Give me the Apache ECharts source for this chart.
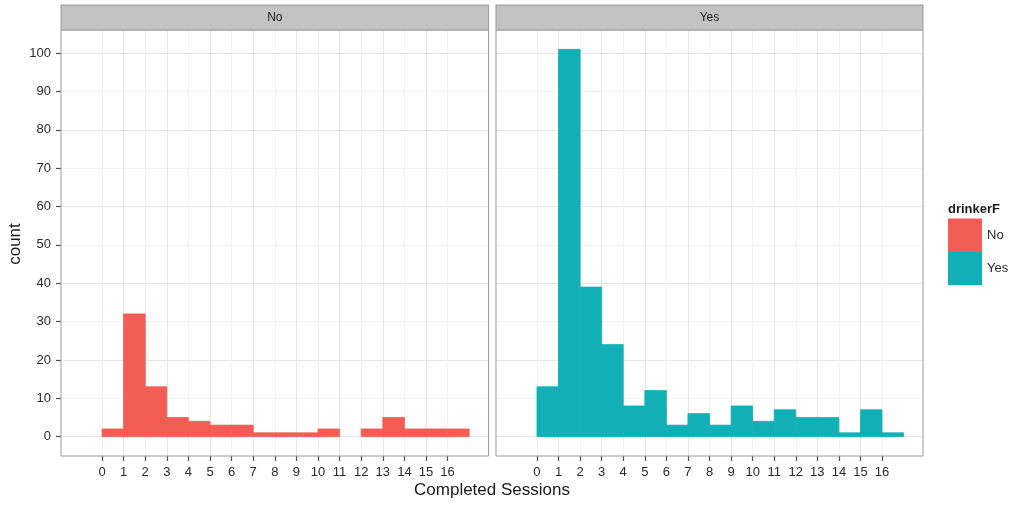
<!DOCTYPE html>
<html>
<head>
<meta charset="utf-8">
<script src="https://cdn.jsdelivr.net/npm/echarts@6/dist/echarts.min.js"></script>
<style>html,body{margin:0;padding:0;background:#fff;}#c{width:1015px;height:506px;}</style>
</head>
<body>
<div id="c"></div>
<script>
// ---- data ----
const binStarts = [0,1,2,3,4,5,6,7,8,9,10,11,12,13,14,15,16];
const noCounts  = [2,32,13,5,4,3,3,1,1,1,2,0,2,5,2,2,2];
const yesCounts = [13,101,39,24,8,12,3,6,3,8,4,7,5,5,1,7,1];
const xTickLabels = [0,1,2,3,4,5,6,7,8,9,10,11,12,13,14,15,16];
const yTickLabels = [0,10,20,30,40,50,60,70,80,90,100];
const facetNames = ['No','Yes'];

// ---- layout ----
const PT = 30, PB = 456, PH = PB - PT;
const yMin = -5.05, yMax = 106.05, ypx = PH / (yMax - yMin);
const xMin = -1.9, xMax = 17.9;
const panels = [{L: 61, W: 427.6}, {L: 496, W: 427}];
const colors = ['#F35D55', '#12B0B6'];
const txt = '#2a2a2a';
const font = 'Liberation Sans, Arial, Helvetica, sans-serif';

function binData(counts){ return binStarts.map((b,i)=>[b, b+1, counts[i]]); }

const grids = [], xAxes = [], yAxes = [], series = [], graphics = [];
panels.forEach((p, k) => {
  const xpx = p.W / (xMax - xMin);
  const xT0 = xTickLabels[0], xT1 = xTickLabels[xTickLabels.length - 1];
  // grid A: bars + vertical grid lines
  grids.push({left: p.L + (-1.5 - xMin) * xpx, width: 19 * xpx, top: PT, height: PH, containLabel: false});
  // grid B: horizontal grid lines + y ticks
  grids.push({left: p.L, width: p.W, top: PT + (yMax - 105) * ypx, height: 105 * ypx, containLabel: false});
  // grid C: thin strip under the panel for x ticks and labels
  grids.push({left: p.L + (xT0 - xMin) * xpx, width: (xT1 - xT0) * xpx, top: PB - 1, height: 1, containLabel: false});
  const gA = 3*k, gB = 3*k+1, gC = 3*k+2;
  xAxes.push({
    gridIndex: gA, type: 'value', position: 'bottom', min: -1.5, max: 17.5, interval: 0.5,
    axisLine: {show: false, onZero: false},
    axisTick: {show: false, customValues: xTickLabels},
    axisLabel: {show: false, customValues: xTickLabels},
    splitLine: {show: true, lineStyle: {color: ['#f3f3f3', '#e6e6e6'], width: 1}}
  });
  yAxes.push({gridIndex: gA, type: 'value', min: yMin, max: yMax, show: false, splitLine: {show: false}});
  xAxes.push({gridIndex: gB, type: 'value', min: 0, max: 1, show: false, splitLine: {show: false}});
  yAxes.push({
    gridIndex: gB, type: 'value', position: 'left', min: 0, max: 105, interval: 5,
    axisLine: {show: false, onZero: false},
    axisTick: {show: k === 0, customValues: yTickLabels, length: 5, lineStyle: {color: '#4d4d4d', width: 1.2}},
    axisLabel: {show: k === 0, customValues: yTickLabels, fontSize: 13, color: txt, fontFamily: font, margin: 10},
    splitLine: {show: true, lineStyle: {color: ['#e6e6e6', '#f3f3f3'], width: 1}}
  });
  xAxes.push({
    gridIndex: gC, type: 'value', position: 'bottom', min: xT0, max: xT1, interval: 1,
    axisLine: {show: false, onZero: false},
    axisTick: {show: true, length: 5, lineStyle: {color: '#4d4d4d', width: 1.2}},
    axisLabel: {show: true, fontSize: 13, color: txt, fontFamily: font, margin: 10},
    splitLine: {show: false}
  });
  yAxes.push({gridIndex: gC, type: 'value', min: 0, max: 1, show: false, splitLine: {show: false}});
  series.push({
    name: facetNames[k], type: 'custom', xAxisIndex: gA, yAxisIndex: gA,
    itemStyle: {color: colors[k]},
    encode: {x: [0, 1], y: 2},
    data: binData(k === 0 ? noCounts : yesCounts),
    renderItem: function(params, api){
      const x0 = api.value(0), x1 = api.value(1), c = api.value(2);
      if (!c) return null;
      const a = api.coord([x0, c]), b = api.coord([x1, 0]);
      const col = api.visual('color');
      return {type: 'rect', shape: {x: a[0], y: a[1], width: b[0] - a[0], height: b[1] - a[1]},
              style: {fill: col, stroke: col, lineWidth: 0.8}};
    }
  });
  // panel border
  graphics.push({type: 'rect', z: 100, shape: {x: p.L, y: PT, width: p.W, height: PH},
    style: {fill: 'none', stroke: '#9a9a9a', lineWidth: 1}});
  // strip
  graphics.push({type: 'rect', z: 100, shape: {x: p.L, y: 5, width: p.W, height: PT - 5},
    style: {fill: '#c2c2c2', stroke: '#9a9a9a', lineWidth: 1}});
  graphics.push({type: 'text', z: 101, x: p.L + p.W/2, y: 17.5,
    style: {text: facetNames[k], fill: '#1a1a1a', font: '12px ' + font, textAlign: 'center', textVerticalAlign: 'middle'}});
});

graphics.push({type: 'text', x: 492, y: 490,
  style: {text: 'Completed Sessions', fill: '#1a1a1a', font: '17px ' + font, textAlign: 'center', textVerticalAlign: 'middle'}});
graphics.push({type: 'text', x: 15, y: 244, rotation: Math.PI/2,
  style: {text: 'count', fill: '#1a1a1a', font: '17px ' + font, textAlign: 'center', textVerticalAlign: 'middle'}});
graphics.push({type: 'text', x: 948, y: 209,
  style: {text: 'drinkerF', fill: '#1a1a1a', font: 'bold 13px ' + font, textAlign: 'left', textVerticalAlign: 'middle'}});

const chart = echarts.init(document.getElementById('c'), null, {renderer: 'canvas'});
chart.setOption({
  animation: false,
  backgroundColor: '#ffffff',
  grid: grids,
  xAxis: xAxes,
  yAxis: yAxes,
  legend: {
    data: facetNames, orient: 'vertical', left: 948, top: 218.5, padding: 0,
    itemWidth: 34, itemHeight: 33.4, itemGap: 0, icon: 'rect', selectedMode: false,
    textStyle: {fontSize: 13, color: txt, fontFamily: font}
  },
  graphic: graphics,
  series: series
});
</script>
</body>
</html>
